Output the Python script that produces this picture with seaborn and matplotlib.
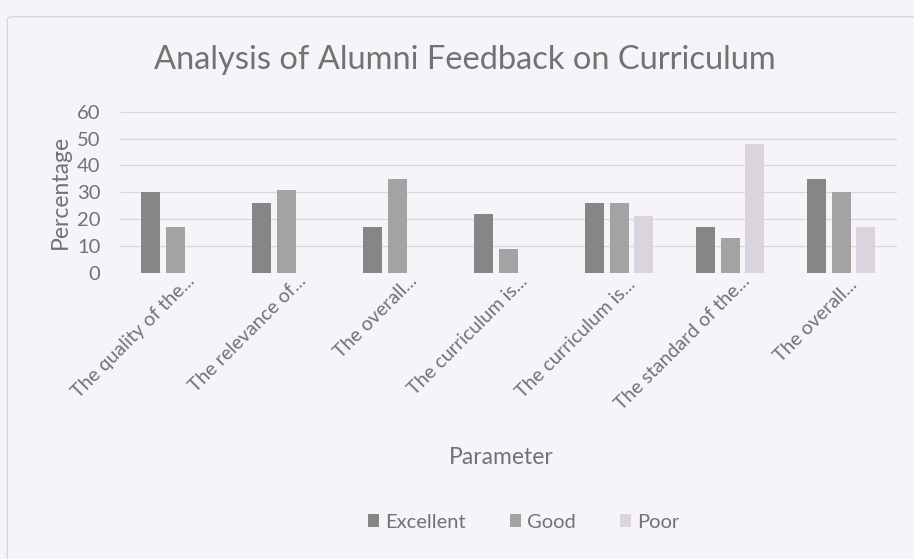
import numpy as np
import pandas as pd
import seaborn as sns
import matplotlib.pyplot as plt
import matplotlib.transforms as mtransforms
from matplotlib.patches import FancyBboxPatch

# 데이터: 항목별 평가 비율 (%)
parameters = ["The quality of the...", "The relevance of...", "The overall...",
              "The curriculum is...", "The curriculum is... ", "The standard of the...",
              "The overall... "]
excellent = [30, 26, 17, 22, 26, 17, 35]
good = [17, 31, 35, 9, 26, 13, 30]
poor = [0, 0, 0, 0, 21, 48, 17]
ratings = ["Excellent", "Good", "Poor"]

df = pd.DataFrame({"Parameter": parameters, "Excellent": excellent, "Good": good, "Poor": poor})
long_df = df.melt(id_vars="Parameter", value_vars=ratings, var_name="Rating", value_name="Percentage")

bg = "#f7f4f9"
txt = "#727272"
palette = {"Excellent": "#868686", "Good": "#a3a3a3", "Poor": "#dad2e0"}

sns.set_style("white")
plt.rcParams["font.family"] = ["Lato", "DejaVu Sans"]

fig = plt.figure(figsize=(9.14, 5.59), dpi=100, facecolor=bg)
ax = fig.add_axes([0.131, 0.512, 0.850, 0.288])
ax.set_facecolor(bg)

# 차트 테두리
fig.patches.append(FancyBboxPatch((0.008, -0.02), 1.02, 0.99, boxstyle="round,pad=0,rounding_size=0.005",
                                  transform=fig.transFigure, fill=False, edgecolor="#d8d5dc", linewidth=1.0))

sns.barplot(data=long_df, x="Parameter", y="Percentage", hue="Rating", palette=palette,
            width=0.66, gap=0.22, linewidth=0, ax=ax, legend=True)

ax.set_ylim(0, 60)
ax.set_xlim(-0.5, len(parameters) - 0.5)
ax.set_yticks(range(0, 61, 10))
ax.yaxis.grid(True, color="#d9d6de", linewidth=0.9)
ax.set_axisbelow(True)
for s in ax.spines.values():
    s.set_visible(False)
ax.tick_params(axis="both", length=0, colors=txt)
ax.tick_params(axis="y", labelsize=14.5, pad=14)
ax.tick_params(axis="x", labelsize=14, pad=4)

offset = mtransforms.ScaledTranslation(0.17, 0, fig.dpi_scale_trans)
for lab in ax.get_xticklabels():
    lab.set_rotation(45)
    lab.set_rotation_mode("anchor")
    lab.set_ha("right")
    lab.set_va("center")
    lab.set_transform(lab.get_transform() + offset)

ax.set_xlabel("")
ax.set_ylabel("")
fig.text(0.548, 0.181, "Parameter", ha="center", va="center", fontsize=16.5, color=txt)
fig.text(0.066, 0.657, "Percentage", ha="center", va="center", rotation=90, fontsize=16.5, color=txt)
fig.text(0.509, 0.893, "Analysis of Alumni Feedback on Curriculum", ha="center", va="center",
         fontsize=23.5, color=txt)

handles, labels = ax.get_legend_handles_labels()
ax.get_legend().remove()
fig.legend(handles, labels, loc="center", bbox_to_anchor=(0.573, 0.066), ncol=3, frameon=False,
           fontsize=14.5, labelcolor=txt, handlelength=0.55, handleheight=0.55, handletextpad=0.3,
           columnspacing=2.2)

fig.savefig("out.png", dpi=100, facecolor=bg)
